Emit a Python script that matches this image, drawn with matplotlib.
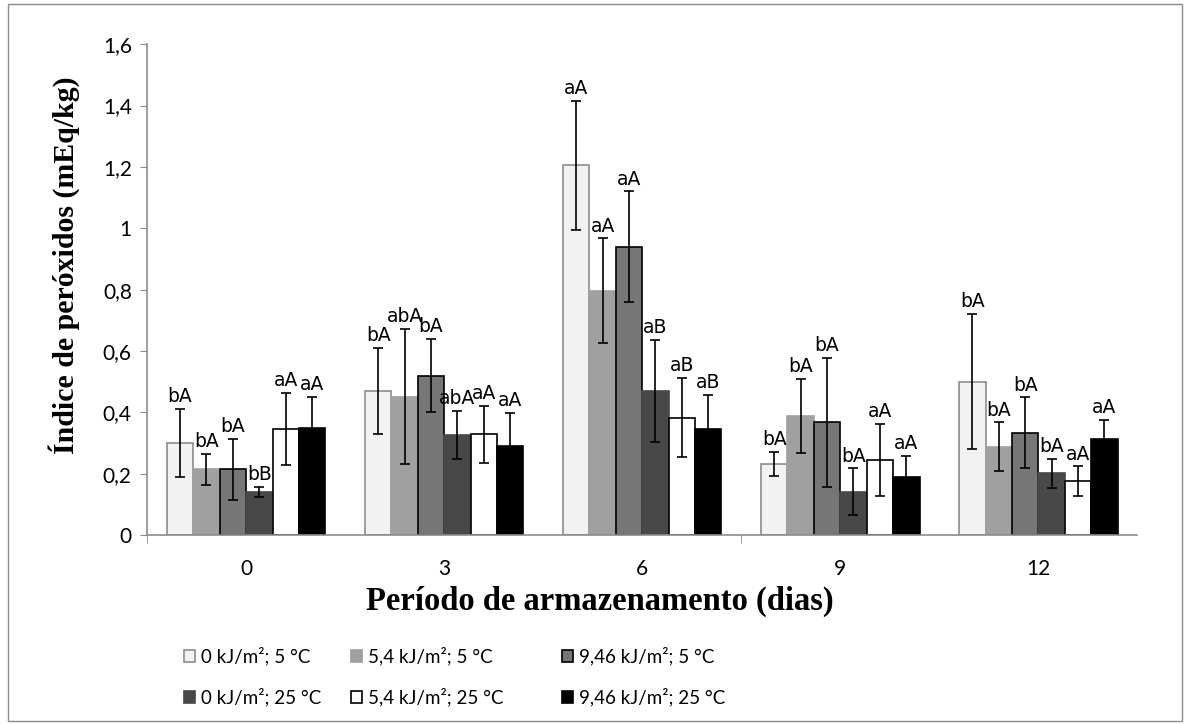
import numpy as np
import matplotlib.pyplot as plt
from matplotlib.patches import Rectangle

# período de armazenamento (dias)
dias = ["0", "3", "6", "9", "12"]

series = ["0 kJ/m²; 5 °C", "5,4 kJ/m²; 5 °C", "9,46 kJ/m²; 5 °C",
          "0 kJ/m²; 25 °C", "5,4 kJ/m²; 25 °C", "9,46 kJ/m²; 25 °C"]

# índice de peróxidos (mEq/kg), uma lista por tratamento
t0_5 = [0.30, 0.47, 1.205, 0.232, 0.50]
t54_5 = [0.214, 0.451, 0.797, 0.389, 0.288]
t946_5 = [0.214, 0.520, 0.940, 0.367, 0.334]
t0_25 = [0.140, 0.326, 0.470, 0.141, 0.201]
t54_25 = [0.345, 0.329, 0.383, 0.245, 0.175]
t946_25 = [0.350, 0.290, 0.346, 0.190, 0.314]

# desvio padrão
e0_5 = [0.11, 0.14, 0.21, 0.04, 0.22]
e54_5 = [0.05, 0.22, 0.17, 0.12, 0.079]
e946_5 = [0.10, 0.12, 0.18, 0.21, 0.115]
e0_25 = [0.016, 0.078, 0.166, 0.076, 0.048]
e54_25 = [0.118, 0.093, 0.128, 0.117, 0.049]
e946_25 = [0.10, 0.109, 0.11, 0.069, 0.061]

# letras de significância
l0_5 = ["bA", "bA", "aA", "bA", "bA"]
l54_5 = ["bA", "abA", "aA", "bA", "bA"]
l946_5 = ["bA", "bA", "aA", "bA", "bA"]
l0_25 = ["bB", "abA", "aB", "bA", "bA"]
l54_25 = ["aA", "aA", "aB", "aA", "aA"]
l946_25 = ["aA", "aA", "aB", "aA", "aA"]

valores = [t0_5, t54_5, t946_5, t0_25, t54_25, t946_25]
erros = [e0_5, e54_5, e946_5, e0_25, e54_25, e946_25]
letras = [l0_5, l54_5, l946_5, l0_25, l54_25, l946_25]

cores = ["#f2f2f2", "#a0a0a0", "#767676", "#484848", "#ffffff", "#000000"]
bordas = ["#8c8c8c", "#a0a0a0", "#000000", "#484848", "#000000", "#000000"]

fig = plt.figure(figsize=(11.86, 7.24), dpi=100)
ax = fig.add_axes([0.124, 0.261, 0.835, 0.678])

x = np.arange(len(dias))
largura = 0.8 / 6
handles = []
for i in range(6):
    pos = x - 0.4 + largura * (i + 0.5)
    b = ax.bar(pos, valores[i], largura, color=cores[i], edgecolor=bordas[i],
               linewidth=1.2, label=series[i], zorder=2)
    ax.errorbar(pos, valores[i], yerr=erros[i], fmt="none", ecolor="black",
                elinewidth=1.2, capsize=3.5, capthick=1.2, zorder=3)
    handles.append(b)
    for p, v, e, t in zip(pos, valores[i], erros[i], letras[i]):
        ax.annotate(t, (p, v + e), xytext=(0, 2), textcoords="offset points",
                    ha="center", va="bottom", fontsize=13.5,
                    family="DejaVu Sans", zorder=4)

ax.set_xlim(-0.5, 4.5)
ax.set_ylim(0, 1.6)
ax.set_yticks(np.arange(0, 1.61, 0.2))
ax.set_yticklabels(["0", "0,2", "0,4", "0,6", "0,8", "1", "1,2", "1,4", "1,6"],
                   family="Lato", fontsize=15)
ax.set_xticks(x)
ax.set_xticklabels(dias, family="Lato", fontsize=15)
ax.set_xticks([-0.5, 2.5], minor=True)
ax.tick_params(axis="x", which="major", length=0, pad=17)
ax.tick_params(axis="x", which="minor", length=6, color="#8c8c8c")
ax.tick_params(axis="y", length=5, color="#8c8c8c", pad=6)

for s in ["top", "right"]:
    ax.spines[s].set_visible(False)
for s in ["left", "bottom"]:
    ax.spines[s].set_color("#8c8c8c")
    ax.spines[s].set_linewidth(1.2)

ax.set_ylabel("Índice de peróxidos (mEq/kg)", family="Liberation Serif",
              fontweight="bold", fontsize=21.5)
ax.yaxis.set_label_coords(-0.068, 0.55)
ax.set_xlabel("Período de armazenamento (dias)", family="Liberation Serif",
              fontweight="bold", fontsize=23.5)
ax.xaxis.set_label_coords(0.4576, -0.103)

# uma legenda por coluna para acertar as posições
col_x = [184, 351, 562]
for c in range(3):
    fig.legend([handles[c], handles[c + 3]], [series[c], series[c + 3]],
               loc="upper left", bbox_to_anchor=(col_x[c] / 1186, 0.107),
               frameon=False, prop={"family": "Lato", "size": 13.5},
               handlelength=0.6, handleheight=0.6, handletextpad=0.3,
               labelspacing=1.22, borderpad=0, borderaxespad=0)

fig.patches.append(Rectangle((0.007, 0.004), 0.99, 0.991, transform=fig.transFigure,
                             fill=False, edgecolor="#8c8c8c", linewidth=1.0))

plt.savefig("out.png", dpi=100)
